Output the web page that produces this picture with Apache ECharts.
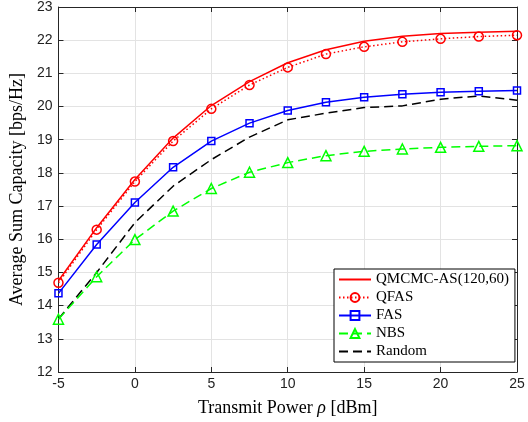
<!DOCTYPE html>
<html>
<head>
<meta charset="utf-8">
<script src="https://cdn.jsdelivr.net/npm/echarts@6/dist/echarts.min.js"></script>
<style>html,body{margin:0;padding:0;background:#fff}#c{width:528px;height:422px}</style>
</head>
<body>
<div id="c"></div>
<script>
var powers = [-5, -2.5, 0, 2.5, 5, 7.5, 10, 12.5, 15, 17.5, 20, 22.5, 25];
var qmcmc  = [14.75, 16.35, 17.8, 19.05, 20.03, 20.75, 21.32, 21.71, 21.97, 22.12, 22.2, 22.24, 22.27];
var qfas   = [14.69, 16.29, 17.74, 18.96, 19.93, 20.65, 21.18, 21.58, 21.8, 21.95, 22.04, 22.11, 22.15];
var fas    = [14.37, 15.84, 17.11, 18.17, 18.96, 19.5, 19.88, 20.13, 20.28, 20.37, 20.43, 20.46, 20.48];
var nbs    = [13.59, 14.87, 15.99, 16.85, 17.53, 18.02, 18.31, 18.52, 18.65, 18.72, 18.77, 18.8, 18.82];
var random = [13.6, 15.0, 16.5, 17.6, 18.4, 19.08, 19.6, 19.8, 19.97, 20.02, 20.22, 20.32, 20.19];
var names  = ['QMCMC-AS(120,60)', 'QFAS', 'FAS', 'NBS', 'Random'];

function pairs(ys){ return powers.map(function(x,i){ return [x, ys[i]]; }); }

var chart = echarts.init(document.getElementById('c'), null, {renderer:'canvas'});
var axisCol = '#262626';
var sans = 'Liberation Sans, Arial, sans-serif';
var serif = 'Liberation Serif, Times New Roman, serif';

function lineSeries(name, data, color, ltype, z){
  return {
    name: name, type: 'line', data: pairs(data), z: z,
    symbol: 'none', showSymbol: false,
    lineStyle: {color: color, width: 1.5, type: ltype},
    itemStyle: {color: color, opacity: 0},
    emphasis: {disabled: true}
  };
}
function markSeries(name, data, color, ltype, symbol, size, z){
  return {
    name: name, type: 'line', data: pairs(data), z: z,
    symbol: symbol, symbolSize: size, showSymbol: true,
    lineStyle: {color: color, width: 1.5, type: ltype},
    itemStyle: {color: 'rgba(255,255,255,0)', borderColor: color, borderWidth: 1.5},
    emphasis: {disabled: true}
  };
}

var legendData = names.map(function(n, i){
  if (i === 0 || i === 4) return {name: n, itemStyle: {opacity: 0}};
  return {name: n};
});

chart.setOption({
  animation: false,
  backgroundColor: '#fff',
  grid: {left: 57, right: 11, top: 6, bottom: 50},
  legend: {
    orient: 'vertical', left: 334, top: 269,
    data: legendData,
    itemWidth: 32, itemHeight: 11, itemGap: 3,
    padding: [3, 6, 3, 4],
    borderColor: '#000', borderWidth: 1, backgroundColor: '#fff',
    textStyle: {fontFamily: serif, fontSize: 15, color: '#000', lineHeight: 14},
    selectedMode: false
  },
  xAxis: [{
    type: 'value', min: -5, max: 25, interval: 5,
    name: 'Transmit Power {i|ρ} [dBm]', nameLocation: 'middle', nameGap: 27,
    nameTextStyle: {fontFamily: serif, fontSize: 18, color: '#000',
      rich: {i: {fontFamily: serif, fontSize: 18, fontStyle: 'italic', color: '#000'}}},
    axisLine: {show: true, onZero: false, lineStyle: {color: axisCol, width: 1}},
    axisTick: {show: true, inside: true, length: 5, lineStyle: {color: axisCol}},
    axisLabel: {fontFamily: sans, fontSize: 14, color: '#222', margin: 5},
    splitLine: {show: true, lineStyle: {color: '#e3e3e3', width: 1}}
  }, {
    type: 'value', min: -5, max: 25, interval: 5, position: 'top',
    axisLine: {show: true, onZero: false, lineStyle: {color: axisCol, width: 1}},
    axisTick: {show: true, inside: true, length: 5, lineStyle: {color: axisCol}},
    axisLabel: {show: false}, splitLine: {show: false}
  }],
  yAxis: [{
    type: 'value', min: 12, max: 23, interval: 1,
    name: 'Average Sum Capacity [bps/Hz]', nameLocation: 'middle', nameGap: 31,
    nameTextStyle: {fontFamily: serif, fontSize: 18, color: '#000'},
    axisLine: {show: true, onZero: false, lineStyle: {color: axisCol, width: 1}},
    axisTick: {show: true, inside: true, length: 5, lineStyle: {color: axisCol}},
    axisLabel: {fontFamily: sans, fontSize: 14, color: '#222', margin: 6},
    splitLine: {show: true, lineStyle: {color: '#e3e3e3', width: 1}}
  }, {
    type: 'value', min: 12, max: 23, interval: 1, position: 'right',
    axisLine: {show: true, onZero: false, lineStyle: {color: axisCol, width: 1}},
    axisTick: {show: true, inside: true, length: 5, lineStyle: {color: axisCol}},
    axisLabel: {show: false}, splitLine: {show: false}
  }],
  series: [
    lineSeries(names[0], qmcmc, '#ff0000', 'solid', 5),
    markSeries(names[1], qfas, '#ff0000', [1.5, 2.5], 'circle', 9, 4),
    markSeries(names[2], fas, '#0000ff', 'solid', 'rect', 7, 3),
    markSeries(names[3], nbs, '#00ff00', [9, 5], 'triangle', 10, 2),
    lineSeries(names[4], random, '#000000', [9, 5], 1)
  ]
});
</script>
</body>
</html>
